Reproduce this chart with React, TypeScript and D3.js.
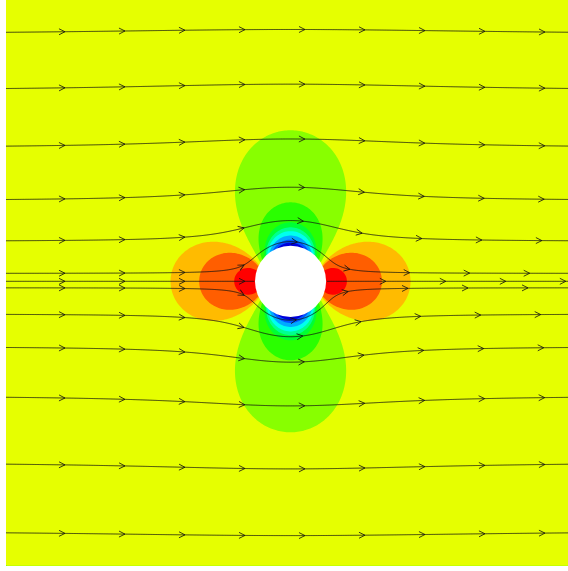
import React, { useMemo } from 'react';
import * as d3 from 'd3';

const W = 568;
const H = 571;

// plot window in data units (cylinder radius = 1)
const domain = [-8, 8];
const radius = 1;

// contour thresholds of the pressure coefficient
const levels = [-2.42, -1.99, -1.58, -1.26, -1.06, -0.86, -0.447, -0.114, 0.168, 0.28, 0.638];
// one colour per band, lowest band first (levels.length + 1 entries)
const bandColors = [
  '#0000dc', '#0055ff', '#00aaff', '#00ffee', '#00ff90', '#00ff33',
  '#2aff00', '#88ff00', '#e6ff00', '#ffbb00', '#ff5e00', '#ff0000',
];
// streamline seeds: y where each line enters at the left edge
const seedY = [7.0, 5.42, 3.8, 2.3, 1.14, 0.225, 0.0, -0.183, -0.93, -1.86, -3.26, -5.14, -7.07];

const GRID = 360;

// potential flow past a cylinder
function velocity(x: number, y: number): [number, number] {
  const r2 = x * x + y * y;
  const r4 = r2 * r2;
  return [1 - (x * x - y * y) / r4, (-2 * x * y) / r4];
}

function pressure(x: number, y: number) {
  const r = Math.hypot(x, y);
  if (r < radius) {
    // inside the body: take the surface value (hidden under the white disc)
    x = x / r; y = y / r;
  }
  const [u, v] = velocity(x, y);
  return 1 - (u * u + v * v);
}

function trace(x0: number, y0: number, dir: number) {
  const h = 0.02;
  const pts: [number, number][] = [[x0, y0]];
  let x = x0, y = y0;
  const f = (px: number, py: number): [number, number] => {
    const [u, v] = velocity(px, py);
    const s = Math.hypot(u, v) || 1;
    return [(dir * u) / s, (dir * v) / s];
  };
  for (let i = 0; i < 6000; i++) {
    const [u, v] = velocity(x, y);
    if (Math.hypot(u, v) < 0.05) break;
    const k1 = f(x, y);
    const k2 = f(x + (h / 2) * k1[0], y + (h / 2) * k1[1]);
    const k3 = f(x + (h / 2) * k2[0], y + (h / 2) * k2[1]);
    const k4 = f(x + h * k3[0], y + h * k3[1]);
    x += (h / 6) * (k1[0] + 2 * k2[0] + 2 * k3[0] + k4[0]);
    y += (h / 6) * (k1[1] + 2 * k2[1] + 2 * k3[1] + k4[1]);
    if (x * x + y * y < radius * radius) break;
    pts.push([x, y]);
    if (x > domain[1] || x < domain[0] || Math.abs(y) > domain[1] + 0.3) break;
  }
  return pts;
}

const App = () => {
  const x = d3.scaleLinear().domain(domain).range([6, 575.1]);
  const y = d3.scaleLinear().domain(domain).range([565.9, -3.26]);

  const { bands, lines, arrows } = useMemo(() => {
    // --- filled contours ---
    const step = (domain[1] - domain[0]) / GRID;
    const values = new Float64Array(GRID * GRID);
    for (let j = 0; j < GRID; j++) {
      const yy = domain[1] - (j + 0.5) * step;
      for (let i = 0; i < GRID; i++) {
        const xx = domain[0] + (i + 0.5) * step;
        values[i + j * GRID] = pressure(xx, yy);
      }
    }
    const contours = d3.contours().size([GRID, GRID]).thresholds(levels)(Array.from(values));
    const cell = (x(domain[1]) - x(domain[0])) / GRID;
    const path = d3.geoPath(d3.geoIdentity().scale(cell).translate([x(domain[0]), y(domain[1])]));
    const bands = contours.map((c, i) => ({ d: path(c as any) || '', color: bandColors[i + 1] }));

    // --- streamlines ---
    const line = d3.line<[number, number]>().x(p => x(p[0])).y(p => y(p[1]));
    const segs: [number, number][][] = [];
    seedY.forEach(s => {
      const fwd = trace(domain[0], s, 1);
      segs.push(fwd);
      if (fwd[fwd.length - 1][0] < domain[1] - 0.1) {
        // stopped at the front stagnation point: pick up the wake side
        segs.push(trace(domain[1], s, -1).reverse());
      }
    });
    const lines = segs.map(p => line(p) || '');

    const arrows: { x: number; y: number; a: number }[] = [];
    segs.forEach(p => {
      const px = p.map(q => [x(q[0]), y(q[1])]);
      let acc = 0;
      let next = 59;
      for (let k = 1; k < px.length; k++) {
        const dx = px[k][0] - px[k - 1][0];
        const dy = px[k][1] - px[k - 1][1];
        const d = Math.hypot(dx, dy);
        if (acc + d >= next) {
          const t = (next - acc) / d;
          arrows.push({
            x: px[k - 1][0] + t * dx,
            y: px[k - 1][1] + t * dy,
            a: (Math.atan2(dy, dx) * 180) / Math.PI,
          });
          next += 60;
        }
        acc += d;
      }
    });
    return { bands, lines, arrows };
  }, []);

  return (
    <div style={{ position: 'absolute', left: 0, top: 0 }}>
      <svg width={W} height={H} style={{ display: 'block' }}>
        <defs>
          <clipPath id="plot">
            <rect x={x(domain[0])} y={y(domain[1])} width={x(domain[1]) - x(domain[0])} height={y(domain[0]) - y(domain[1])} />
          </clipPath>
        </defs>
        <rect width={W} height={H} fill="#fff" />
        <g clipPath="url(#plot)">
          <rect x={x(domain[0])} y={y(domain[1])} width={x(domain[1]) - x(domain[0])} height={y(domain[0]) - y(domain[1])} fill={bandColors[0]} />
          {bands.map((b, i) => (
            <path key={i} d={b.d} fill={b.color} stroke="none" />
          ))}
          <circle cx={x(0)} cy={y(0)} r={x(radius) - x(0)} fill="#fff" />
          {lines.map((d, i) => (
            <path key={i} d={d} fill="none" stroke="#111" strokeWidth={0.9} strokeOpacity={0.9} />
          ))}
          {arrows.map((a, i) => (
            <path
              key={i}
              d="M-6,-3L0,0L-6,3"
              transform={`translate(${a.x},${a.y}) rotate(${a.a})`}
              fill="none"
              stroke="#111"
              strokeWidth={0.9}
              strokeOpacity={0.9}
            />
          ))}
        </g>
      </svg>
    </div>
  );
};

export default App;
